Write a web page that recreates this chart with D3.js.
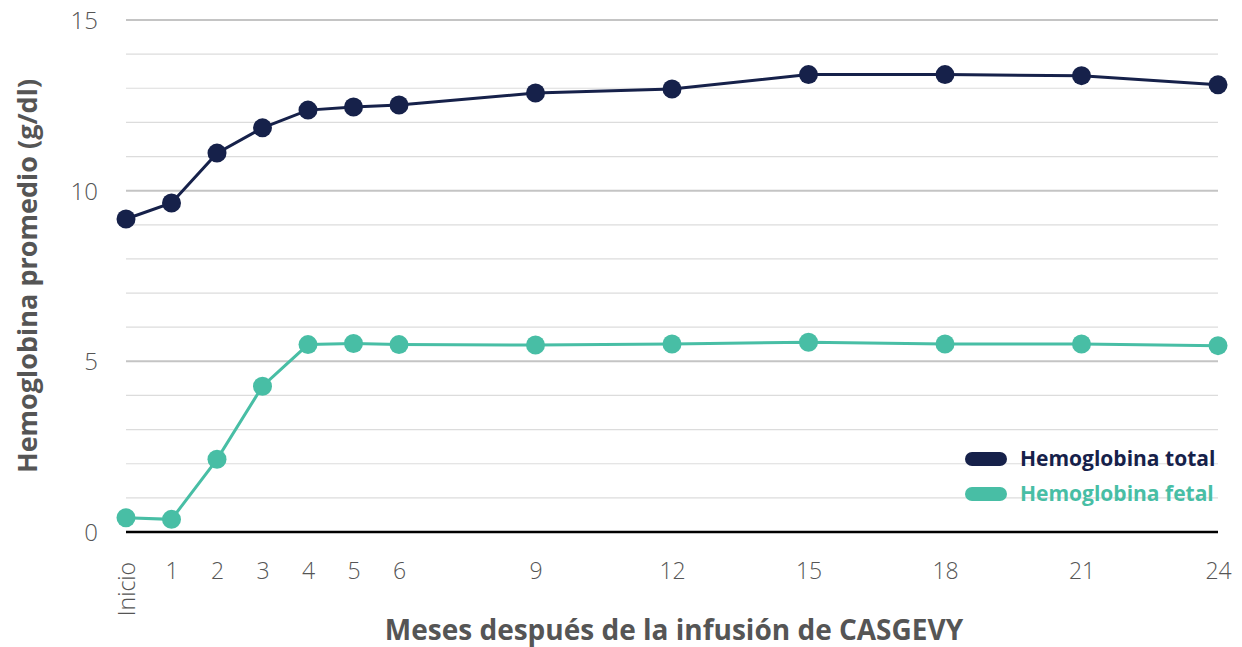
<!DOCTYPE html>
<html>
<head>
<meta charset="utf-8">
<script src="https://cdn.jsdelivr.net/npm/d3@7"></script>
<style>
  body { margin: 0; background: #fff; }
  svg { display: block; font-family: "Open Sans", Lato, sans-serif; }
</style>
</head>
<body>
<svg id="chart" width="1242" height="647"></svg>
<script>
// meses después de la infusión (0 = Inicio)
const months = [0, 1, 2, 3, 4, 5, 6, 9, 12, 15, 18, 21, 24];
const monthLabels = ['Inicio', '1', '2', '3', '4', '5', '6', '9', '12', '15', '18', '21', '24'];
const hbTotal = [9.17, 9.64, 11.1, 11.84, 12.36, 12.45, 12.51, 12.86, 12.98, 13.4, 13.4, 13.37, 13.1];
const hbFetal = [0.42, 0.37, 2.13, 4.27, 5.49, 5.52, 5.49, 5.48, 5.51, 5.56, 5.51, 5.51, 5.46];
const yTicks = [0, 5, 10, 15];
const seriesNames = ['Hemoglobina total', 'Hemoglobina fetal'];

const NAVY = '#16214a';
const TEAL = '#48bea5';
const GREY = '#555555';

const svg = d3.select('#chart');
const margin = {left: 126, right: 24, top: 20, bottom: 115};
const W = 1242, H = 647;

const x = d3.scaleLinear().domain([0, 24]).range([margin.left, W - margin.right]);
const y = d3.scaleLinear().domain([0, 15]).range([H - margin.bottom, margin.top]);

// grid
const grid = svg.append('g');
grid.selectAll('line')
    .data(d3.range(1, 16))
    .enter().append('line')
    .attr('x1', x(0)).attr('x2', x(24))
    .attr('y1', (d) => y(d)).attr('y2', (d) => y(d))
    .attr('stroke', (d) => d % 5 === 0 ? '#c4c4c4' : '#dcdcdc')
    .attr('stroke-width', (d) => d % 5 === 0 ? 2 : 1.2);

// zero line
svg.append('line')
    .attr('x1', x(0)).attr('x2', x(24))
    .attr('y1', y(0)).attr('y2', y(0))
    .attr('stroke', '#000').attr('stroke-width', 2.5);

// y axis labels
const yAxis = svg.append('g')
    .attr('transform', `translate(${margin.left - 28},0)`)
    .call(d3.axisLeft(y).tickValues(yTicks).tickSize(0).tickPadding(0));
yAxis.select('.domain').remove();
yAxis.selectAll('text')
    .attr('font-family', '"Open Sans", sans-serif')
    .attr('font-size', 24).attr('font-weight', 300)
    .attr('fill', GREY).attr('dy', '0.36em');

// x axis labels
const xAxis = svg.append('g')
    .attr('transform', `translate(0,${y(0) + 30})`)
    .call(d3.axisBottom(x).tickValues(months)
        .tickFormat((d, i) => monthLabels[i]).tickSize(0).tickPadding(0));
xAxis.select('.domain').remove();
xAxis.selectAll('text')
    .attr('font-family', '"Open Sans", sans-serif')
    .attr('font-size', 23).attr('font-weight', 300)
    .attr('fill', GREY).attr('dy', '0.76em');
xAxis.selectAll('text').filter((d) => d === 0)
    .attr('text-anchor', 'end')
    .attr('dy', '0.36em')
    .attr('transform', 'rotate(-90)');

// axis titles
svg.append('text')
    .attr('transform', `translate(37,${(y(0) + y(15)) / 2}) rotate(-90)`)
    .attr('text-anchor', 'middle')
    .attr('font-size', 27).attr('font-weight', 700)
    .attr('fill', GREY)
    .text('Hemoglobina promedio (g/dl)');

svg.append('text')
    .attr('x', 674).attr('y', 640)
    .attr('text-anchor', 'middle')
    .attr('font-size', 28).attr('font-weight', 700)
    .attr('fill', GREY)
    .text('Meses después de la infusión de CASGEVY');

// series
const series = [
    {name: seriesNames[0], values: hbTotal, color: NAVY},
    {name: seriesNames[1], values: hbFetal, color: TEAL},
];
const line = d3.line().x((d) => x(d[0])).y((d) => y(d[1]));

series.forEach((s) => {
    const pts = months.map((m, i) => [m, s.values[i]]);
    svg.append('path')
        .datum(pts)
        .attr('d', line)
        .attr('fill', 'none')
        .attr('stroke', s.color)
        .attr('stroke-width', 3);
    svg.append('g').selectAll('circle')
        .data(pts)
        .enter().append('circle')
        .attr('cx', (d) => x(d[0])).attr('cy', (d) => y(d[1]))
        .attr('r', 9.5)
        .attr('fill', s.color);
});

// legend
const legend = svg.append('g').attr('transform', 'translate(965,459)');
series.forEach((s, i) => {
    const g = legend.append('g').attr('transform', `translate(0,${i * 35})`);
    g.append('rect')
        .attr('x', 0).attr('y', -7).attr('width', 42).attr('height', 14)
        .attr('rx', 7).attr('fill', s.color);
    g.append('text')
        .attr('x', 55).attr('dy', '0.35em')
        .attr('font-size', 21).attr('font-weight', 700)
        .attr('fill', s.color)
        .text(s.name);
});
</script>
</body>
</html>
